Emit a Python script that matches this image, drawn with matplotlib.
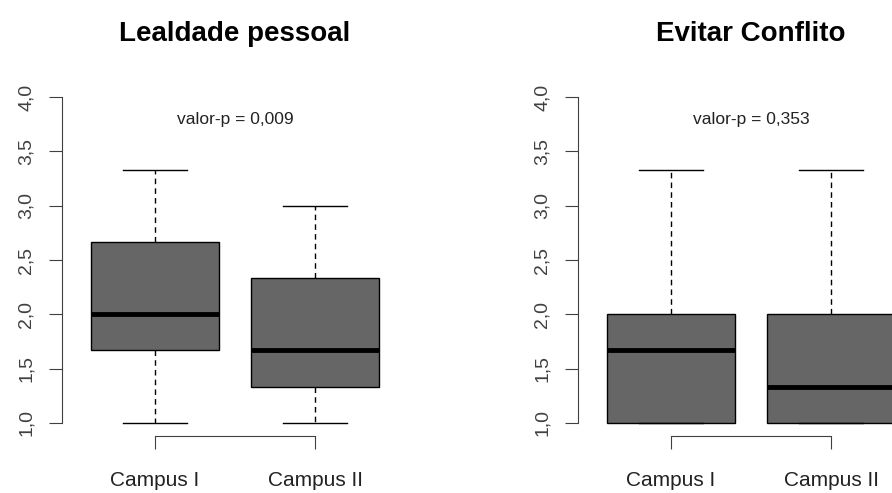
import matplotlib
matplotlib.use("Agg")
import matplotlib.pyplot as plt

plt.rcParams['font.family'] = ['Liberation Sans', 'DejaVu Sans']

groups = ['Campus I', 'Campus II']

# five-number summaries per campus: lower whisker, Q1, median, Q3, upper whisker
lealdade_whislo = [1.0, 1.0]
lealdade_q1 = [1.667, 1.333]
lealdade_med = [2.0, 1.667]
lealdade_q3 = [2.667, 2.333]
lealdade_whishi = [3.333, 3.0]

conflito_whislo = [1.0, 1.0]
conflito_q1 = [1.0, 1.0]
conflito_med = [1.667, 1.333]
conflito_q3 = [2.0, 2.0]
conflito_whishi = [3.333, 3.333]

titles = ['Lealdade pessoal', 'Evitar Conflito']
pvalues = ['valor-p = 0,009', 'valor-p = 0,353']
yticks = [1.0, 1.5, 2.0, 2.5, 3.0, 3.5, 4.0]


def make_stats(lo, q1, med, q3, hi):
    return [dict(label=g, whislo=lo[i], q1=q1[i], med=med[i], q3=q3[i],
                 whishi=hi[i], fliers=[]) for i, g in enumerate(groups)]


panels = [make_stats(lealdade_whislo, lealdade_q1, lealdade_med, lealdade_q3, lealdade_whishi),
          make_stats(conflito_whislo, conflito_q1, conflito_med, conflito_q3, conflito_whishi)]

fig = plt.figure(figsize=(8.92, 4.93), dpi=100)
lefts = [62 / 892, 578 / 892]
axcol = '#404040'

for k in range(2):
    ax = fig.add_axes([lefts[k], 57 / 493, 346 / 892, 352 / 493])
    ax.bxp(panels[k], positions=[1, 2], widths=0.8, patch_artist=True,
           showfliers=False,
           boxprops=dict(facecolor='#666666', edgecolor='black', linewidth=1.0),
           medianprops=dict(color='black', linewidth=3.5, solid_capstyle='butt'),
           whiskerprops=dict(color='black', linewidth=1.0, linestyle=(0, (4, 3))),
           capprops=dict(color='black', linewidth=1.0),
           capwidths=0.4)
    ax.set_xlim(0.5 - 0.08, 2.5 + 0.08)
    ax.set_ylim(0.88, 4.12)

    for s in ['top', 'right']:
        ax.spines[s].set_visible(False)
    ax.spines['left'].set_bounds(1.0, 4.0)
    ax.spines['bottom'].set_bounds(1, 2)
    ax.spines['left'].set_color(axcol)
    ax.spines['bottom'].set_color(axcol)

    ax.set_yticks(yticks)
    ax.set_yticklabels([f'{v:.1f}'.replace('.', ',') for v in yticks],
                       rotation=90, va='center', fontsize=14, color='#404040')
    ax.set_xticks([1, 2])
    ax.set_xticklabels(groups, fontsize=15, color='#222222')
    ax.tick_params(axis='y', length=9.5, pad=10, color=axcol)
    ax.tick_params(axis='x', length=9.5, pad=16, color=axcol)

    ax.text(1.5, 3.79, pvalues[k], ha='center', va='center', fontsize=12.5,
            color='#222222')
    ax.set_title(titles[k], fontsize=20, fontweight='bold', pad=31)

fig.savefig('out.png', dpi=100)
